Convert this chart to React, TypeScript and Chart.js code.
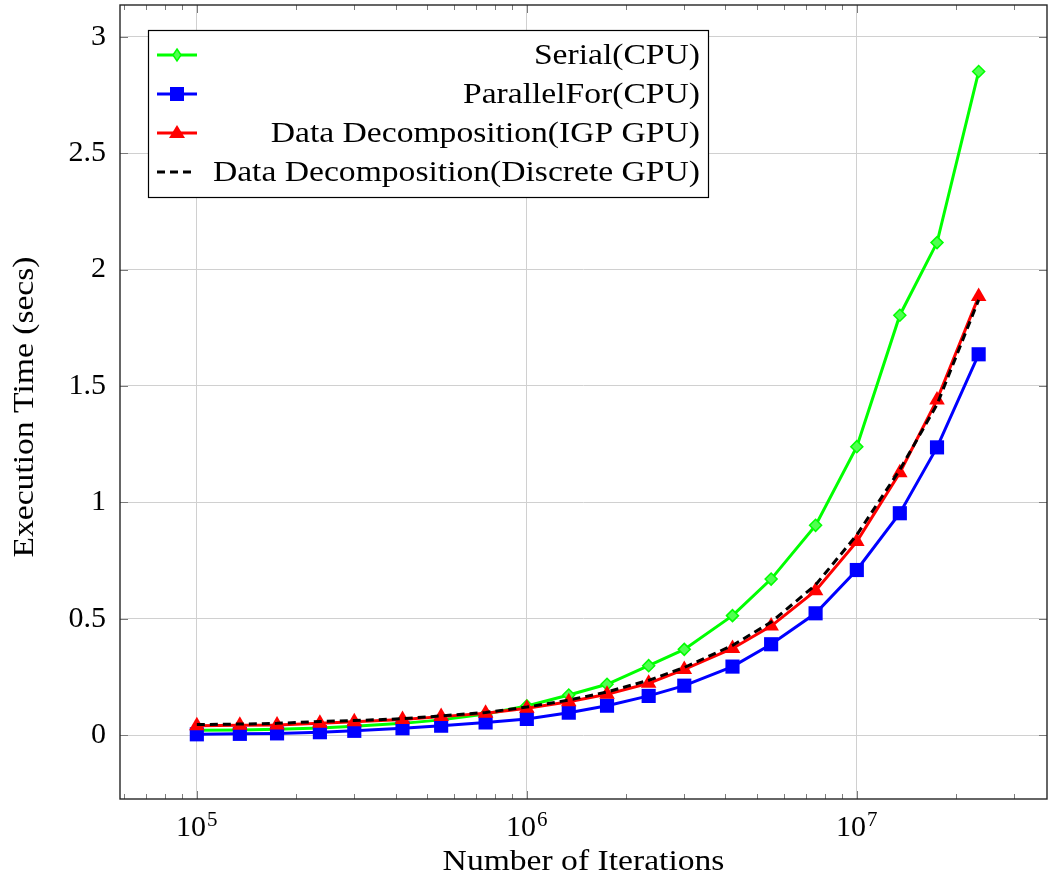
import React, { useEffect, useRef } from "react";
import { Chart, registerables } from "chart.js";

Chart.register(...registerables);

const iterations = [
  1e5, 1.35e5, 1.75e5, 2.36e5, 3.0e5, 4.2e5, 5.5e5, 7.5e5, 1e6, 1.34e6,
  1.75e6, 2.34e6, 3.0e6, 4.2e6, 5.5e6, 7.5e6, 1e7, 1.35e7, 1.75e7, 2.34e7,
];
const serialCPU = [
  0.02, 0.022, 0.025, 0.03, 0.038, 0.05, 0.065, 0.09, 0.125, 0.172,
  0.218, 0.298, 0.368, 0.513, 0.67, 0.901, 1.239, 1.804, 2.116, 2.851,
];
const parallelForCPU = [
  0.003, 0.005, 0.007, 0.012, 0.018, 0.029, 0.04, 0.054, 0.069, 0.096,
  0.126, 0.168, 0.212, 0.294, 0.39, 0.523, 0.709, 0.953, 1.236, 1.636,
];
const igpGPU = [
  0.04, 0.042, 0.043, 0.05, 0.057, 0.067, 0.079, 0.093, 0.115, 0.143,
  0.175, 0.222, 0.282, 0.372, 0.468, 0.62, 0.831, 1.127, 1.44, 1.884,
];
const discreteGPU = [
  0.045, 0.047, 0.05, 0.058, 0.062, 0.07, 0.082, 0.097, 0.12, 0.15,
  0.185, 0.235, 0.29, 0.385, 0.485, 0.645, 0.86, 1.14, 1.42, 1.87,
];
const xMajorTicks = [1e5, 1e6, 1e7];
const xTickBase = "10";
const xTickExponents = ["5", "6", "7"];
const yTicks = [0, 0.5, 1, 1.5, 2, 2.5, 3];
const legendLabels = [
  "Serial(CPU)",
  "ParallelFor(CPU)",
  "Data Decomposition(IGP GPU)",
  "Data Decomposition(Discrete GPU)",
];
const xTitle = "Number of Iterations";
const yTitle = "Execution Time (secs)";

const FONT = "'Liberation Serif', 'DejaVu Serif', serif";
const STRETCH = 1.12;

function stretchedText(
  ctx: CanvasRenderingContext2D,
  text: string,
  x: number,
  y: number,
  align: "left" | "right" | "center",
  rotate = 0
) {
  ctx.save();
  ctx.translate(x, y);
  if (rotate) ctx.rotate(rotate);
  ctx.scale(STRETCH, 1);
  ctx.textAlign = align;
  ctx.fillText(text, 0, 0);
  ctx.restore();
}

const framePlugin = {
  id: "framePlugin",
  afterDraw(chart: any) {
    const { ctx, chartArea } = chart;
    const { left, right, top, bottom } = chartArea;
    const xs = chart.scales.x;
    const ys = chart.scales.y;
    ctx.save();
    // minor ticks
    ctx.strokeStyle = "#7a7a7a";
    ctx.lineWidth = 1;
    for (let e = 4; e <= 7; e++) {
      for (let m = 2; m <= 9; m++) {
        const v = m * Math.pow(10, e);
        if (v < xs.min || v > xs.max) continue;
        const px = Math.round(xs.getPixelForValue(v)) + 0.5;
        ctx.beginPath();
        ctx.moveTo(px, bottom);
        ctx.lineTo(px, bottom - 5);
        ctx.moveTo(px, top);
        ctx.lineTo(px, top + 5);
        ctx.stroke();
      }
    }
    // major ticks
    xMajorTicks.forEach((v) => {
      const px = Math.round(xs.getPixelForValue(v)) + 0.5;
      ctx.beginPath();
      ctx.moveTo(px, bottom);
      ctx.lineTo(px, bottom - 8);
      ctx.moveTo(px, top);
      ctx.lineTo(px, top + 8);
      ctx.stroke();
    });
    yTicks.forEach((v) => {
      const py = Math.round(ys.getPixelForValue(v)) + 0.5;
      ctx.beginPath();
      ctx.moveTo(left, py);
      ctx.lineTo(left + 8, py);
      ctx.moveTo(right, py);
      ctx.lineTo(right - 8, py);
      ctx.stroke();
    });
    // frame
    ctx.strokeStyle = "#262626";
    ctx.lineWidth = 1.4;
    ctx.strokeRect(left, top, right - left, bottom - top);

    // x tick labels: 10 with superscript exponent
    ctx.fillStyle = "#000000";
    ctx.textBaseline = "alphabetic";
    ctx.textAlign = "left";
    xMajorTicks.forEach((v, i) => {
      const px = xs.getPixelForValue(v);
      ctx.font = `30px ${FONT}`;
      const wb = ctx.measureText(xTickBase).width;
      ctx.font = `21px ${FONT}`;
      const we = ctx.measureText(xTickExponents[i]).width;
      const x0 = px - (wb + we + 1) / 2;
      ctx.font = `30px ${FONT}`;
      ctx.fillText(xTickBase, x0, bottom + 37);
      ctx.font = `21px ${FONT}`;
      ctx.fillText(xTickExponents[i], x0 + wb + 1, bottom + 27);
    });

    // axis titles
    ctx.font = `30px ${FONT}`;
    stretchedText(ctx, xTitle, (left + right) / 2, 870, "center");
    stretchedText(ctx, yTitle, 33, (top + bottom) / 2 + 5, "center", -Math.PI / 2);

    // legend
    const bx = 148, by = 30, bw = 560, bh = 167;
    ctx.fillStyle = "#ffffff";
    ctx.fillRect(bx, by, bw, bh);
    ctx.strokeStyle = "#000000";
    ctx.lineWidth = 1.2;
    ctx.strokeRect(bx + 0.5, by + 0.5, bw, bh);
    const rows = [55, 94, 133, 172];
    const colors = ["#00ff00", "#0000ff", "#ff0000", "#000000"];
    rows.forEach((ry, i) => {
      ctx.save();
      ctx.strokeStyle = colors[i];
      ctx.lineWidth = 3;
      if (i === 3) ctx.setLineDash([8, 5]);
      ctx.beginPath();
      ctx.moveTo(157, ry);
      ctx.lineTo(i === 3 ? 192 : 197, ry);
      ctx.stroke();
      ctx.restore();
      ctx.fillStyle = colors[i];
      ctx.strokeStyle = colors[i];
      const cx = 177;
      if (i === 0) {
        ctx.beginPath();
        ctx.moveTo(cx, ry - 6);
        ctx.lineTo(cx + 4, ry);
        ctx.lineTo(cx, ry + 6);
        ctx.lineTo(cx - 4, ry);
        ctx.closePath();
        ctx.fillStyle = "#50ff50";
        ctx.fill();
        ctx.lineWidth = 1.5;
        ctx.stroke();
      } else if (i === 1) {
        ctx.fillRect(cx - 7, ry - 7, 14, 14);
      } else if (i === 2) {
        ctx.beginPath();
        ctx.moveTo(cx, ry - 8);
        ctx.lineTo(cx + 8, ry + 5);
        ctx.lineTo(cx - 8, ry + 5);
        ctx.closePath();
        ctx.fill();
      }
      ctx.fillStyle = "#000000";
      ctx.font = `30px ${FONT}`;
      ctx.textBaseline = "middle";
      stretchedText(ctx, legendLabels[i], 700, ry + 1, "right");
    });
    ctx.restore();
  },
};

export default function App() {
  const canvasRef = useRef<HTMLCanvasElement | null>(null);

  useEffect(() => {
    document.body.style.margin = "0";
    const canvas = canvasRef.current;
    if (!canvas) return;
    const mk = (vals: number[]) => iterations.map((x, i) => ({ x, y: vals[i] }));
    const zeroPad = (scale: any) => {
      scale.paddingTop = 0;
      scale.paddingBottom = 0;
      scale.paddingLeft = 0;
      scale.paddingRight = 0;
    };
    const chart = new Chart(canvas, {
      type: "line",
      data: {
        datasets: [
          {
            label: legendLabels[0],
            data: mk(serialCPU),
            borderColor: "#00ff00",
            backgroundColor: "#50ff50",
            borderWidth: 3,
            pointStyle: "rectRot",
            pointRadius: 6,
            pointBorderWidth: 1.5,
            pointBorderColor: "#00ff00",
            order: 4,
          },
          {
            label: legendLabels[1],
            data: mk(parallelForCPU),
            borderColor: "#0000ff",
            backgroundColor: "#0000ff",
            borderWidth: 3,
            pointStyle: "rect",
            pointRadius: 10,
            pointBorderWidth: 0,
            order: 3,
          },
          {
            label: legendLabels[2],
            data: mk(igpGPU),
            borderColor: "#ff0000",
            backgroundColor: "#ff0000",
            borderWidth: 3,
            pointStyle: "triangle",
            pointRadius: 9,
            pointBorderWidth: 0,
            order: 2,
          },
          {
            label: legendLabels[3],
            data: mk(discreteGPU),
            borderColor: "#000000",
            backgroundColor: "#000000",
            borderWidth: 3,
            borderDash: [8, 5],
            pointRadius: 0,
            order: 1,
          },
        ],
      },
      options: {
        responsive: false,
        animation: false,
        devicePixelRatio: 1,
        layout: { autoPadding: false, padding: { left: 0, right: 3, top: 5, bottom: 0 } },
        plugins: { legend: { display: false }, tooltip: { enabled: false } },
        elements: { line: { tension: 0 } },
        scales: {
          x: {
            type: "logarithmic",
            min: 5.85e4,
            max: 3.77e7,
            afterBuildTicks: (scale: any) => {
              scale.ticks = xMajorTicks.map((v) => ({ value: v }));
            },
            afterFit: (scale: any) => {
              scale.height = 78;
              zeroPad(scale);
            },
            ticks: { display: false, autoSkip: false },
            grid: { color: "#d0d0d0", lineWidth: 1, drawTicks: false },
            border: { display: false },
          },
          y: {
            type: "linear",
            min: -0.275,
            max: 3.137,
            afterBuildTicks: (scale: any) => {
              scale.ticks = yTicks.map((v) => ({ value: v }));
            },
            afterFit: (scale: any) => {
              scale.width = 120;
              zeroPad(scale);
            },
            ticks: {
              padding: 14,
              color: "#000",
              font: { family: FONT, size: 30 },
              callback: (v: any) => String(v),
            },
            grid: { color: "#d0d0d0", lineWidth: 1, drawTicks: false },
            border: { display: false },
          },
        },
      },
      plugins: [framePlugin],
    });
    return () => chart.destroy();
  }, []);

  return (
    <div style={{ width: 1050, height: 877, position: "relative" }}>
      <canvas ref={canvasRef} width={1050} height={877} />
    </div>
  );
}
